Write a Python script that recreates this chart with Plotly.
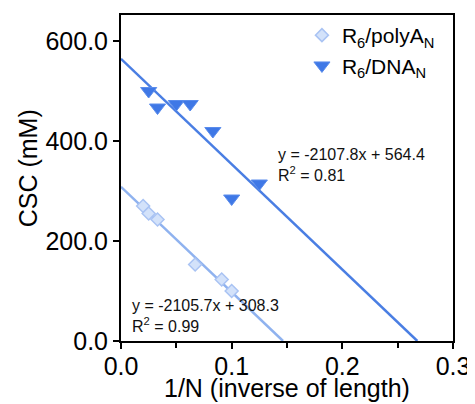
import plotly.graph_objects as go
import numpy as np

# Data
polya_x = [0.020, 0.025, 0.033, 0.067, 0.091, 0.100]
polya_y = [270, 255, 243, 153, 123, 100]
dna_x = [0.025, 0.033, 0.050, 0.0625, 0.083, 0.100, 0.125]
dna_y = [500, 467, 474, 474, 420, 285, 315]

polya_fit = [-2105.7, 308.3]  # slope, intercept
dna_fit = [-2107.8, 564.4]
polya_r2 = 0.99
dna_r2 = 0.81

x_ticks = [0.0, 0.1, 0.2, 0.3]
y_ticks = [0.0, 200.0, 400.0, 600.0]

FONT = "Arial, Liberation Sans, sans-serif"
c_dna = "#3f78e6"
c_dna_line = "#4a7ee3"
c_polya_line = "#8fb2ef"
c_polya_fill = "#d3e2fa"
c_polya_edge = "#a9c3f3"

def fit_line(fit):
    m, b = fit
    x = np.array([0.0, -b / m])
    return x, m * x + b

fig = go.Figure()
lx, ly = fit_line(polya_fit)
fig.add_trace(go.Scatter(x=lx, y=ly, mode="lines", line=dict(color=c_polya_line, width=2.5),
                         showlegend=False, hoverinfo="skip"))
lx, ly = fit_line(dna_fit)
fig.add_trace(go.Scatter(x=lx, y=ly, mode="lines", line=dict(color=c_dna_line, width=2.5),
                         showlegend=False, hoverinfo="skip"))

fig.add_trace(go.Scatter(x=polya_x, y=polya_y, mode="markers", name="R<sub>6</sub>/polyA<sub>N</sub>",
                         marker=dict(symbol="diamond", size=10, color=c_polya_fill,
                                     line=dict(color=c_polya_edge, width=1.5))))
fig.add_trace(go.Scatter(x=dna_x, y=dna_y, mode="markers", name="R<sub>6</sub>/DNA<sub>N</sub>",
                         marker=dict(symbol="triangle-down", size=14, color=c_dna,
                                     line=dict(color="#5a8cec", width=1))))

fig.add_annotation(x=0.140, y=352, xref="x", yref="y",
                   text=f"y = {dna_fit[0]}x + {dna_fit[1]}<br>R<sup>2</sup> = {dna_r2}",
                   showarrow=False, xanchor="left", yanchor="middle", align="left",
                   font=dict(family=FONT, size=16, color="#111"))
fig.add_annotation(x=0.008, y=50, xref="x", yref="y",
                   text=f"y = {polya_fit[0]}x + {polya_fit[1]}<br>R<sup>2</sup> = {polya_r2}",
                   showarrow=False, xanchor="left", yanchor="middle", align="left",
                   font=dict(family=FONT, size=16, color="#111"))

# axis titles
fig.add_annotation(x=0.5, y=-0.145, xref="paper", yref="paper", text="1/N (inverse of length)",
                   showarrow=False, xanchor="center", yanchor="middle",
                   font=dict(family=FONT, size=25, color="black"))
fig.add_annotation(x=-0.28, y=0.53, xref="paper", yref="paper", text="CSC (mM)", textangle=-90,
                   showarrow=False, xanchor="center", yanchor="middle",
                   font=dict(family=FONT, size=25, color="black"))

# page body has an 8px margin; size the figure so it fills the 475x404 window
fig.update_layout(
    width=467, height=396,
    margin=dict(l=113, r=22, t=7, b=63, autoexpand=False),
    paper_bgcolor="white", plot_bgcolor="white",
    font=dict(family=FONT, color="black"),
    legend=dict(x=0.545, y=1.0, xanchor="left", yanchor="top", bgcolor="rgba(0,0,0,0)",
                font=dict(size=21, family=FONT), itemwidth=30, tracegroupgap=0),
)
fig.update_xaxes(range=[0, 0.3], tickvals=x_ticks, tickformat=".1f", automargin=False,
                 showline=True, linecolor="black", linewidth=2, mirror=True,
                 ticks="outside", ticklen=6, tickwidth=2, tickcolor="black",
                 ticklabelstandoff=-4,
                 minor=dict(dtick=0.05, ticks="outside", ticklen=5, tickwidth=2, tickcolor="black"),
                 showgrid=False, zeroline=False,
                 tickfont=dict(size=25))
fig.update_yaxes(range=[0, 652], tickvals=y_ticks, tickformat=".1f", automargin=False,
                 showline=True, linecolor="black", linewidth=2, mirror=True,
                 ticks="outside", ticklen=6, tickwidth=2, tickcolor="black",
                 showgrid=False, zeroline=False,
                 tickfont=dict(size=25))

fig.write_html("out.html")
